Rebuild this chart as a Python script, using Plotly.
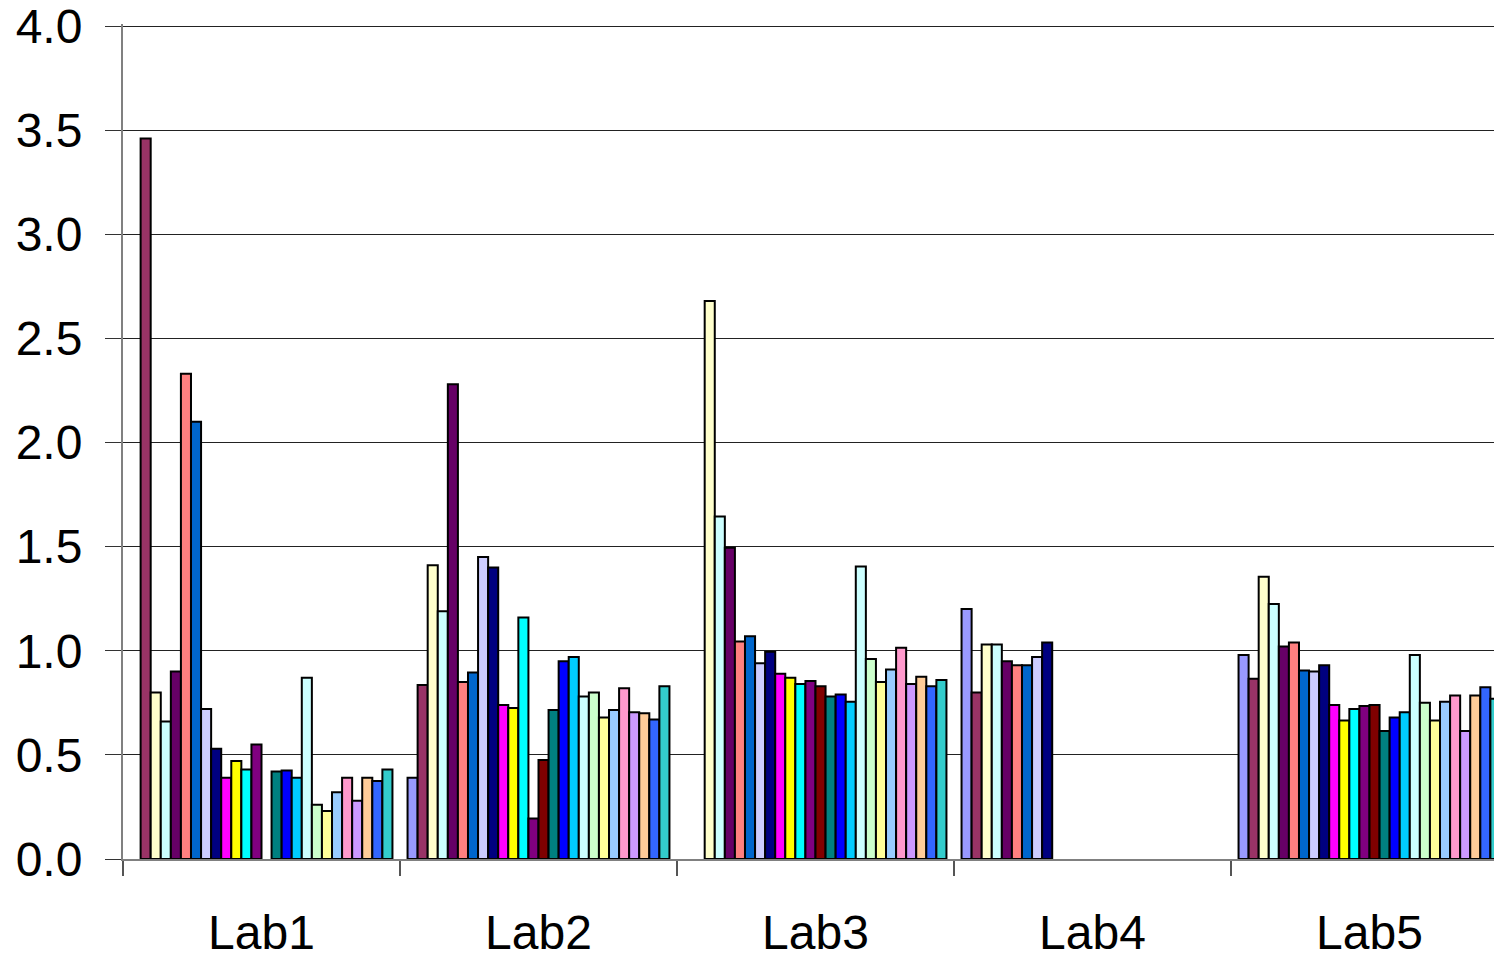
import plotly.graph_objects as go

labs = ["Lab1", "Lab2", "Lab3", "Lab4", "Lab5"]

series_colors = [
    "#9999FF", "#993366", "#FFFFCC", "#CCFFFF", "#660066", "#FF8080",
    "#0066CC", "#CCCCFF", "#000080", "#FF00FF", "#FFFF00", "#00FFFF",
    "#800080", "#800000", "#008080", "#0000FF", "#00CCFF", "#CCFFFF",
    "#CCFFCC", "#FFFF99", "#99CCFF", "#FF99CC", "#CC99FF", "#FFCC99",
    "#3366FF", "#33CCCC",
]

# one list per lab, 26 series each (None = no result)
lab1 = [None, 3.46, 0.80, 0.66, 0.90, 2.33, 2.10, 0.72, 0.53, 0.39, 0.47, 0.43,
        0.55, None, 0.42, 0.425, 0.39, 0.87, 0.26, 0.23, 0.32, 0.39, 0.28, 0.39,
        0.375, 0.43]
lab2 = [0.39, 0.835, 1.41, 1.19, 2.28, 0.85, 0.895, 1.45, 1.40, 0.74, 0.725, 1.16,
        0.195, 0.475, 0.715, 0.95, 0.97, 0.78, 0.80, 0.68, 0.715, 0.82, 0.705, 0.70,
        0.67, 0.83]
lab3 = [None, None, 2.68, 1.645, 1.495, 1.045, 1.07, 0.94, 0.995, 0.89, 0.87, 0.84,
        0.855, 0.83, 0.78, 0.79, 0.755, 1.405, 0.96, 0.85, 0.91, 1.015, 0.84, 0.875,
        0.83, 0.86]
lab4 = [1.20, 0.80, 1.03, 1.03, 0.95, 0.93, 0.93, 0.97, 1.04, None, None, None,
        None, None, None, None, None, None, None, None, None, None, None, None,
        None, None]
lab5 = [0.98, 0.865, 1.355, 1.225, 1.02, 1.04, 0.905, 0.90, 0.93, 0.74, 0.665, 0.72,
        0.735, 0.74, 0.615, 0.68, 0.705, 0.98, 0.75, 0.665, 0.755, 0.785, 0.615, 0.785,
        0.825, 0.77]

by_lab = [lab1, lab2, lab3, lab4, lab5]
y_ticks = [0.0, 0.5, 1.0, 1.5, 2.0, 2.5, 3.0, 3.5, 4.0]

fig = go.Figure()
for i, color in enumerate(series_colors):
    fig.add_trace(go.Bar(
        x=labs,
        y=[vals[i] for vals in by_lab],
        marker=dict(color=color, line=dict(color="#000000", width=2)),
        showlegend=False,
    ))

W, H = 1494, 959
left, top, bottom = 123, 24, 98
cat_px = 277.0
span = (W - left) / cat_px
y_top = 4.0 + 2 / 208.75  # a little headroom so the 4.0 gridline is kept

fig.update_layout(
    width=W, height=H,
    margin=dict(l=left, r=0, t=top, b=bottom, pad=0),
    paper_bgcolor="white", plot_bgcolor="white",
    barmode="group", bargap=0.0545, bargroupgap=0,
    font=dict(family="Liberation Sans, Arial, sans-serif", size=48, color="#000000"),
)
fig.update_xaxes(
    type="category", range=[-0.5, -0.5 + span],
    showline=True, linecolor="#808080", linewidth=2,
    ticks="outside", tickson="boundaries", ticklen=15, tickwidth=1.5, tickcolor="#555555",
    ticklabelstandoff=30, tickfont=dict(size=48), ticklabeloverflow="allow",
    showgrid=False, zeroline=False,
)
fig.update_yaxes(
    range=[0, y_top], tickvals=y_ticks, tickformat=".1f",
    showline=True, linecolor="#808080", linewidth=2,
    ticks="outside", ticklen=16, tickwidth=1.2, tickcolor="#333333",
    ticklabelstandoff=13, tickfont=dict(size=48), ticklabeloverflow="allow",
    showgrid=True, gridcolor="#222222", gridwidth=1, zeroline=False,
)

fig.write_html("out.html")
